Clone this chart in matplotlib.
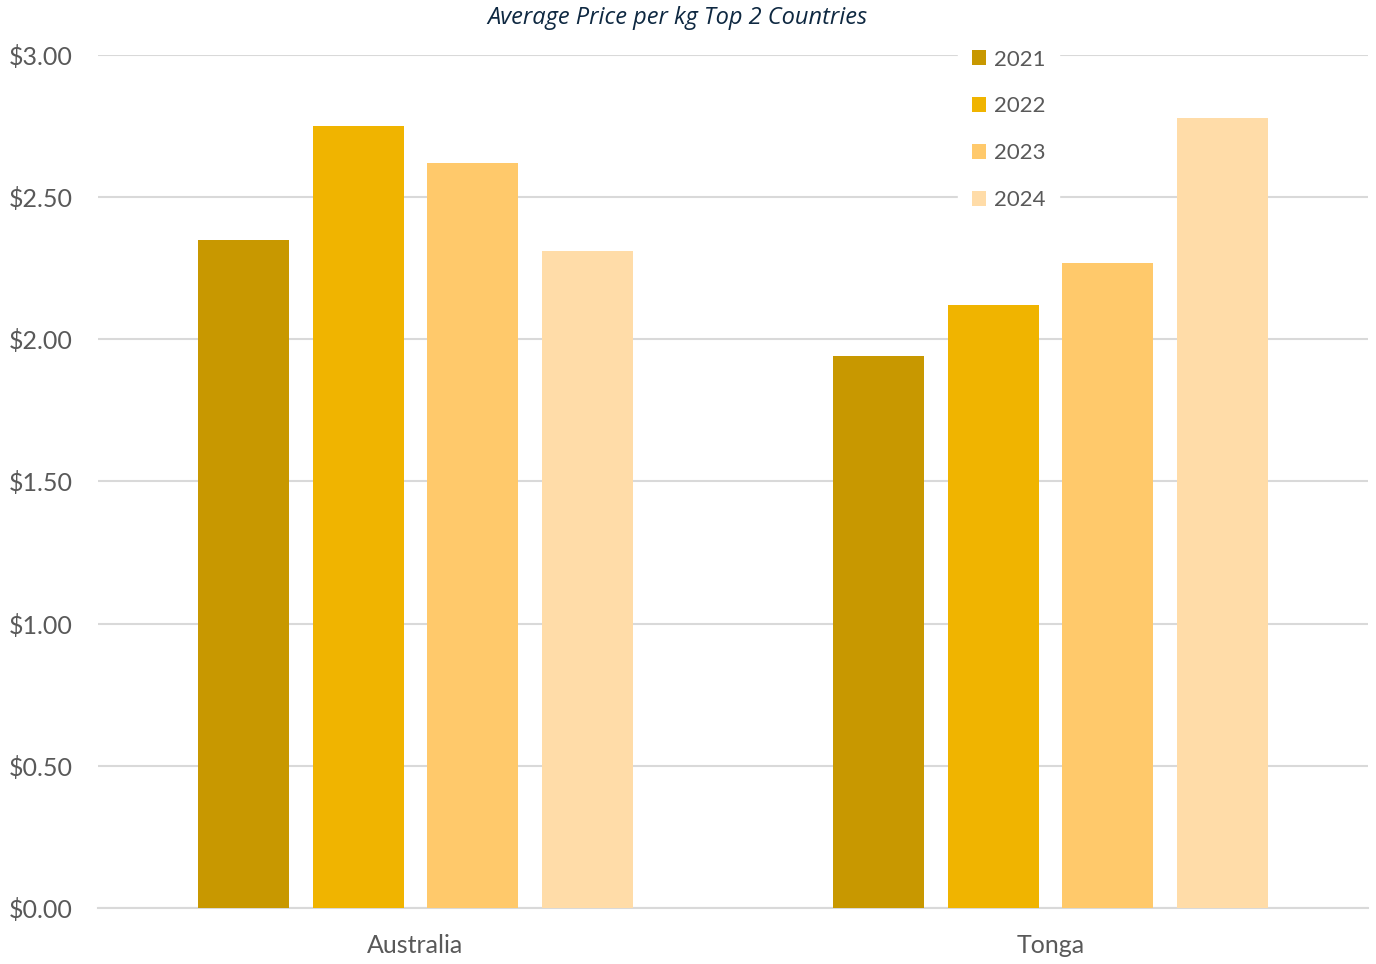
import matplotlib
matplotlib.use("Agg")
import matplotlib.pyplot as plt
import numpy as np

# data
countries = ["Australia", "Tonga"]
years = ["2021", "2022", "2023", "2024"]
price_2021 = [2.35, 1.94]
price_2022 = [2.75, 2.12]
price_2023 = [2.62, 2.27]
price_2024 = [2.31, 2.78]
yticks = [0, 0.5, 1.0, 1.5, 2.0, 2.5, 3.0]

series = [price_2021, price_2022, price_2023, price_2024]
colors = ["#C89800", "#F0B400", "#FFC96B", "#FFDCA8"]

plt.rcParams["font.family"] = ["Lato", "DejaVu Sans"]

fig = plt.figure(figsize=(13.76, 9.64), dpi=100)
ax = fig.add_axes([0.0712, 0.0581, 0.9230, 0.8849])

x = np.arange(len(countries))
step = 0.181
width = 0.1433
for i, vals in enumerate(series):
    ax.bar(x + (i - 1.5) * step, vals, width, color=colors[i], label=years[i], zorder=3)

ax.set_xlim(-0.5, 1.5)
ax.set_ylim(0, 3.0)
ax.set_yticks(yticks)
ax.set_yticklabels(["${:.2f}".format(v) for v in yticks])
ax.set_xticks(x)
ax.set_xticklabels(countries)
ax.grid(axis="y", color="#D9D9D9", linewidth=1.5, zorder=0)
ax.tick_params(axis="both", length=0, labelsize=18, colors="#595959")
ax.tick_params(axis="y", pad=18)
ax.tick_params(axis="x", pad=19)
for s in ["top", "left", "right"]:
    ax.spines[s].set_visible(False)
ax.spines["bottom"].set_color("#D9D9D9")
ax.spines["bottom"].set_linewidth(1.5)

leg = ax.legend(loc="upper left", bbox_to_anchor=(0.6885, 0.974), bbox_transform=fig.transFigure,
                frameon=True, fontsize=16, handlelength=0.62, handleheight=0.62,
                handletextpad=0.4, labelspacing=1.21, borderpad=0.6)
leg.get_frame().set_facecolor("white")
leg.get_frame().set_edgecolor("white")
leg.get_frame().set_alpha(1)
for t in leg.get_texts():
    t.set_color("#595959")

fig.text(0.4925, 0.981, "Average Price per kg Top 2 Countries", ha="center", va="center",
         fontsize=17, style="italic", color="#0E2841", family=["Open Sans", "DejaVu Sans"])

fig.savefig("out.png", dpi=100)
